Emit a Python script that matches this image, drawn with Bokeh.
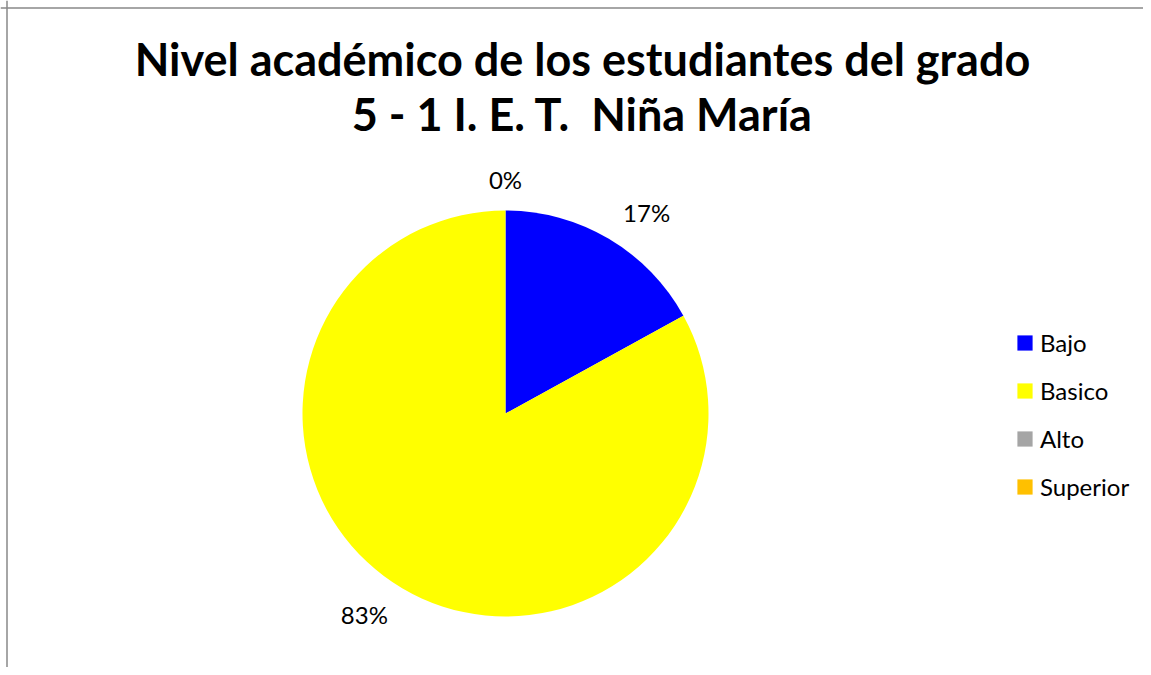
import math
from bokeh.plotting import figure
from bokeh.models import Range1d, ColumnDataSource, Legend, LegendItem, Span
from bokeh.core.properties import value
from bokeh.embed import file_html
from bokeh.resources import INLINE

# ---- data ----
categories = ["Bajo", "Basico", "Alto", "Superior"]
values = [17, 83, 0, 0]
colors = ["#0000FF", "#FFFF00", "#A5A5A5", "#FFC000"]
title_lines = ["Nivel académico de los estudiantes del grado", "5 - 1 I. E. T.\u00a0 Niña María"]

# ---- layout (pixels) ----
W, H = 1143, 667
cx, cy = 505, H - 413
R = 203

total = sum(values)
starts, ends, mids, pct, radii = [], [], [], [], []
a = math.pi / 2
for v in values:
    frac = v / total
    starts.append(a)
    e = a - 2 * math.pi * frac
    ends.append(e)
    mids.append((a + e) / 2)
    pct.append(f"{round(frac * 100)}%")
    radii.append(R if v > 0 else 0)   # empty slices draw nothing
    a = e

src = ColumnDataSource(dict(cat=categories, val=values, color=colors,
                            start=starts, end=ends, radius=radii))

p = figure(width=W, height=H, x_range=Range1d(0, W), y_range=Range1d(0, H),
           x_axis_type=None, y_axis_type=None, toolbar_location=None,
           output_backend="svg", min_border=0, title_location=None,
           outline_line_color=None, background_fill_color="white",
           border_fill_color="white")

r = p.wedge(x=cx, y=cy, radius="radius", start_angle="start", end_angle="end",
            direction="clock", fill_color="color", line_color=None, source=src)
items = [LegendItem(label=c, renderers=[r], index=i) for i, c in enumerate(categories)]

# labels
lx, ly, lt = [], [], []
seen = set()
D = 234
for m, t in zip(mids, pct):
    c, s = math.cos(m), math.sin(m)
    sg = 0 if abs(c) < 1e-6 else (1 if c > 0 else -1)
    key = (round(c, 4), round(s, 4), t)
    if key in seen:
        continue
    seen.add(key)
    lx.append(cx + D * c + 22 * sg)
    ly.append(cy + D * s)
    lt.append(t)
p.text(x=lx, y=ly, text=lt, text_font=value("Lato"), text_font_size="24px",
       text_color="#000000", text_align="center", text_baseline="middle")

# title
p.text(x=[582, 582], y=[H - 58, H - 113], text=title_lines,
       text_font=value("Lato"), text_font_size="45px", text_font_style="bold",
       text_color="#000000", text_align="center", text_baseline="alphabetic")

# chart area border (left & top visible)
p.add_layout(Span(location=6.5, dimension="height", line_color="#888888", line_width=1.5))
p.add_layout(Span(location=H - 7.5, dimension="width", line_color="#888888", line_width=1.5))

legend = Legend(items=items, location=(1015, 166), border_line_color=None,
                background_fill_alpha=0, padding=0, margin=0, spacing=19,
                glyph_width=19, glyph_height=19, label_height=24,
                label_standoff=6, label_text_font="Lato",
                label_text_font_size="24px", label_text_color="#000000")
p.add_layout(legend)

open("out.html", "w").write(file_html(p, INLINE))
